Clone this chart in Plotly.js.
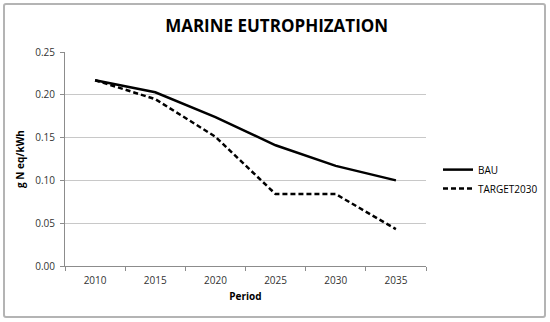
<!DOCTYPE html>
<html>
<head>
<meta charset="utf-8">
<script src="https://cdn.plot.ly/plotly-3.0.1.min.js"></script>
<style>
  html, body { margin: 0; padding: 0; background: #ffffff; }
  #wrap { position: relative; width: 550px; height: 322px; }
  #chart { width: 550px; height: 322px; }
  #frame { position: absolute; left: 3px; top: 3px; width: 539px; height: 311px;
           border: 2px solid #b4b4b4; border-radius: 3px; pointer-events: none; }
</style>
</head>
<body>
<div id="wrap">
  <div id="chart"></div>
  <div id="frame"></div>
</div>
<script>
const periods = ["2010", "2015", "2020", "2025", "2030", "2035"];
const bauValues = [0.217, 0.203, 0.174, 0.141, 0.117, 0.100];
const targetValues = [0.217, 0.195, 0.151, 0.084, 0.084, 0.043];
const yTickValues = [0, 0.05, 0.10, 0.15, 0.20, 0.25];
const yTickLabels = ["0.00", "0.05", "0.10", "0.15", "0.20", "0.25"];

const FONT = "Open Sans, Liberation Sans, sans-serif";

const traces = [
  {
    x: periods, y: bauValues, name: "BAU", type: "scatter", mode: "lines",
    line: { color: "#000000", width: 2.5 }
  },
  {
    x: periods, y: targetValues, name: "TARGET2030", type: "scatter", mode: "lines",
    line: { color: "#000000", width: 2.5, dash: "5px,3px" }
  }
];

const layout = {
  width: 550, height: 322,
  margin: { l: 65, r: 124, t: 52, b: 56 },
  paper_bgcolor: "#ffffff", plot_bgcolor: "#ffffff",
  font: { family: FONT, size: 10, color: "#404040" },
  title: {
    text: "<b>MARINE EUTROPHIZATION</b>",
    font: { family: FONT, size: 17, color: "#000000" },
    x: 0.503, xref: "container", xanchor: "center",
    y: 25, yref: "container", yanchor: "middle"
  },
  xaxis: {
    type: "category", range: [-0.5, 5.5], tickson: "boundaries",
    showgrid: false, zeroline: false,
    showline: true, linecolor: "#8c8c8c", linewidth: 1,
    ticks: "outside", ticklen: 4, tickcolor: "#8c8c8c",
    ticklabelstandoff: 5,
    tickfont: { family: FONT, size: 10, color: "#333333" },
    title: { text: "<b>Period</b>", font: { family: FONT, size: 10, color: "#000000" }, standoff: 6 }
  },
  yaxis: {
    range: [0, 0.25], tickmode: "array", tickvals: yTickValues, ticktext: yTickLabels,
    showgrid: true, gridcolor: "#c8c8c8", gridwidth: 1, zeroline: false,
    showline: true, linecolor: "#8c8c8c", linewidth: 1,
    ticks: "outside", ticklen: 4, tickcolor: "#8c8c8c",
    ticklabelstandoff: 3,
    tickfont: { family: FONT, size: 10, color: "#333333" },
    title: { text: "<b>g N eq/kWh</b>", font: { family: FONT, size: 10, color: "#000000" }, standoff: 8 }
  },
  showlegend: true,
  legend: {
    x: 438 / 550, xref: "container", xanchor: "left",
    y: 0.406, yref: "paper", yanchor: "middle",
    font: { family: FONT, size: 10, color: "#000000" },
    itemwidth: 30, tracegroupgap: 4, bgcolor: "rgba(0,0,0,0)"
  }
};

Plotly.newPlot("chart", traces, layout, { displayModeBar: false, staticPlot: true });
</script>
</body>
</html>
